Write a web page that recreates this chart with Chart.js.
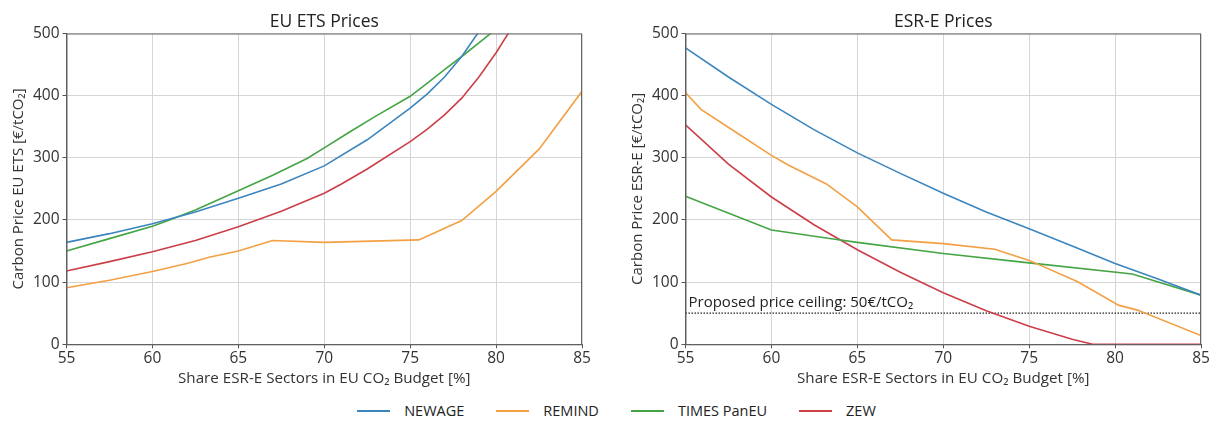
<!DOCTYPE html>
<html>
<head>
<meta charset="utf-8">
<script src="https://cdn.jsdelivr.net/npm/chart.js@4.4.1/dist/chart.umd.min.js"></script>
<style>
    body { margin: 0; background: #fff; width: 1215px; height: 422px; overflow: hidden; position: relative; font-family: 'Open Sans', sans-serif; color: #222; }
    #etsChart { position: absolute; left: 0; top: 0; }
    #esrChart { position: absolute; left: 619px; top: 0; }
    #legend { position: absolute; top: 401px; left: 0; width: 1233px; display: flex; justify-content: center; align-items: center; font-size: 14.5px; line-height: 20px; }
    .item { display: flex; align-items: center; margin-right: 32px; }
    .item:last-child { margin-right: 0; }
    .swatch { display: inline-block; width: 33px; height: 1.6px; margin-right: 14px; }
</style>
</head>
<body>
<canvas id="etsChart" width="596" height="392"></canvas>
<canvas id="esrChart" width="596" height="392"></canvas>
<div id="legend"></div>
<script>
// 凡例とシリーズ名
const models = ['NEWAGE', 'REMIND', 'TIMES PanEU', 'ZEW'];
const modelColors = ['#3b86bf', '#f3a044', '#45a545', '#cc3f48'];

// 軸の目盛り
const shareTicks = [55, 60, 65, 70, 75, 80, 85];
const priceTicks = [0, 100, 200, 300, 400, 500];

// EU ETS 価格 [share %, €/tCO2]
const etsNewage = [[55, 164], [57.5, 178], [60, 194], [62.5, 213], [65, 235], [67.5, 258], [70, 287], [72.5, 329], [75, 380], [76, 403], [77, 430], [78, 463], [79, 503], [80, 550]];
const etsRemind = [[55, 91], [57.5, 103], [60, 117], [62, 130], [63.3, 140], [65, 150], [67, 167], [70, 164], [75.5, 168], [78, 199], [80, 246], [82.5, 314], [85, 407]];
const etsTimes = [[55, 150], [57.5, 170], [60, 190], [61, 200], [62.5, 216], [65, 247], [67, 272], [69, 299], [70, 316], [71.5, 342], [73, 367], [75, 399], [76, 420], [77, 442], [78, 463], [79, 485], [80, 507]];
const etsZew = [[55, 118], [57.5, 133], [60, 149], [62.5, 167], [65, 189], [67.5, 214], [70, 243], [71, 258], [72.5, 282], [75, 326], [76, 346], [77, 369], [78, 396], [79, 430], [80, 469], [81, 513]];

// ESR-E 価格 [share %, €/tCO2]
const esrNewage = [[55, 477], [57.5, 430], [60, 386], [62.5, 345], [65, 308], [67.5, 275], [70, 243], [72.5, 213], [75, 186], [77.5, 158], [80, 130], [82.5, 105], [85, 79]];
const esrRemind = [[55, 405], [55.9, 378], [58, 340], [60, 304], [61, 288], [63.2, 258], [65, 221], [67, 168], [70, 162], [73, 153], [75, 135], [77.8, 101], [80.2, 63], [81.3, 55], [85, 14]];
const esrTimes = [[55, 238], [60, 184], [63.7, 169], [65, 164], [70, 146], [75, 131], [81, 113], [85, 79]];
const esrZew = [[55, 353], [57.5, 290], [60, 237], [62.5, 192], [65, 152], [67.5, 116], [70, 83], [72.5, 54], [75, 29], [77.5, 8], [78.7, 0], [85, 0]];

// 価格上限
const ceilingPrice = 50;
const ceilingText = 'Proposed price ceiling: 50€/tCO₂';

const fontFamily = "'Open Sans', sans-serif";

// プロット枠を描く
const framePlugin = {
    id: 'frame',
    afterDraw(chart) {
        const { ctx, chartArea: a } = chart;
        ctx.save();
        ctx.strokeStyle = '#666';
        ctx.lineWidth = 1;
        ctx.strokeRect(a.left + 0.5, a.top + 0.5, a.right - a.left - 1, a.bottom - a.top);
        ctx.restore();
    }
};

// 価格上限ラベル
const ceilingLabelPlugin = {
    id: 'ceilingLabel',
    afterDatasetsDraw(chart, args, opts) {
        if (!opts.text) return;
        const { ctx, scales: { x, y } } = chart;
        ctx.save();
        ctx.font = '15px ' + fontFamily;
        ctx.fillStyle = '#222';
        ctx.textBaseline = 'alphabetic';
        ctx.fillText(opts.text, x.getPixelForValue(shareTicks[0]) + 3, y.getPixelForValue(ceilingPrice) - 6);
        ctx.restore();
    }
};

function toPoints(pairs) {
    return pairs.map(p => ({ x: p[0], y: p[1] }));
}

function makeChart(canvasId, title, yTitle, seriesList, withCeiling) {
    const datasets = seriesList.map((s, i) => ({
        label: models[i],
        data: toPoints(s),
        borderColor: modelColors[i],
        borderWidth: 1.6,
        pointRadius: 0,
        tension: 0,
        fill: false
    }));
    if (withCeiling) {
        datasets.push({
            label: 'ceiling',
            data: [{ x: shareTicks[0], y: ceilingPrice }, { x: shareTicks[shareTicks.length - 1], y: ceilingPrice }],
            borderColor: '#222',
            borderWidth: 1.3,
            borderDash: [1.5, 1.5],
            pointRadius: 0
        });
    }

    return new Chart(document.getElementById(canvasId), {
        type: 'line',
        data: { datasets: datasets },
        options: {
            responsive: false,
            animation: false,
            layout: { padding: { left: 6, right: 14, top: 0, bottom: 0 } },
            plugins: {
                legend: { display: false },
                tooltip: { enabled: false },
                title: {
                    display: true,
                    text: title,
                    fullSize: false,
                    color: '#222',
                    font: { family: fontFamily, size: 17.5, weight: 'normal' },
                    padding: { top: 12, bottom: 0.5 }
                },
                ceilingLabel: { text: withCeiling ? ceilingText : '' }
            },
            scales: {
                x: {
                    type: 'linear',
                    min: shareTicks[0],
                    max: shareTicks[shareTicks.length - 1],
                    afterBuildTicks: scale => { scale.ticks = shareTicks.map(v => ({ value: v })); },
                    afterFit: scale => { scale.height = 47.7; },
                    grid: { color: '#d6d6d6', tickColor: '#555', tickLength: 4 },
                    border: { color: '#555' },
                    ticks: { color: '#333', padding: 1, maxRotation: 0, font: { family: fontFamily, size: 15.5 } },
                    title: {
                        display: true,
                        text: 'Share ESR-E Sectors in EU CO₂ Budget [%]',
                        color: '#333',
                        font: { family: fontFamily, size: 15.2 },
                        padding: { top: 2, bottom: 4 }
                    }
                },
                y: {
                    type: 'linear',
                    min: priceTicks[0],
                    max: priceTicks[priceTicks.length - 1],
                    afterBuildTicks: scale => { scale.ticks = priceTicks.map(v => ({ value: v })); },
                    afterFit: scale => { scale.width = 60.5; },
                    grid: { color: '#d6d6d6', tickColor: '#555', tickLength: 4 },
                    border: { color: '#555' },
                    ticks: { color: '#333', padding: 3, font: { family: fontFamily, size: 15.5 } },
                    title: {
                        display: true,
                        text: yTitle,
                        color: '#333',
                        font: { family: fontFamily, size: 15 },
                        padding: { top: 4, bottom: 4 }
                    }
                }
            }
        },
        plugins: [framePlugin, ceilingLabelPlugin]
    });
}

// 凡例を作る
function buildLegend() {
    const legend = document.getElementById('legend');
    models.forEach((name, i) => {
        const item = document.createElement('div');
        item.className = 'item';
        const swatch = document.createElement('span');
        swatch.className = 'swatch';
        swatch.style.background = modelColors[i];
        const label = document.createElement('span');
        label.textContent = name;
        item.appendChild(swatch);
        item.appendChild(label);
        legend.appendChild(item);
    });
}

makeChart('etsChart', 'EU ETS Prices', 'Carbon Price EU ETS [€/tCO₂]', [etsNewage, etsRemind, etsTimes, etsZew], false);
makeChart('esrChart', 'ESR-E Prices', 'Carbon Price ESR-E [€/tCO₂]', [esrNewage, esrRemind, esrTimes, esrZew], true);
buildLegend();
</script>
</body>
</html>
